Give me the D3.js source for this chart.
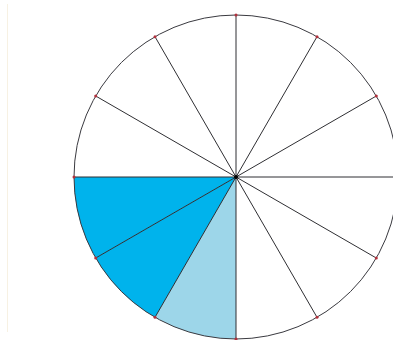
<!DOCTYPE html>
<html>
<head>
<meta charset="utf-8">
<script src="https://cdn.jsdelivr.net/npm/d3@7"></script>
<style>
  body { margin: 0; background: #fff; }
  svg { display: block; }
</style>
</head>
<body>
<div id="chart"></div>
<script>
// 12 equal parts, counted clockwise from 12 o'clock
const sliceValues = [1, 1, 1, 1, 1, 1, 1, 1, 1, 1, 1, 1];
// 0 = empty, 1 = light blue, 2 = bright blue
const sliceShading = [0, 0, 0, 0, 0, 0, 1, 2, 2, 0, 0, 0];
const shadeColors = ["#ffffff", "#9dd6e9", "#00b3ec"];

const svgWidth = 393;
const svgHeight = 340;
const cx = 236;
const cy = 177;
const radius = 162;

const svg = d3.select("#chart")
  .append("svg")
  .attr("width", svgWidth)
  .attr("height", svgHeight);

// faint page edge on the left
svg.append("line")
  .attr("x1", 7.5).attr("x2", 7.5)
  .attr("y1", 4).attr("y2", 332)
  .attr("stroke", "#f7f1e3")
  .attr("stroke-width", 1);

const g = svg.append("g").attr("transform", `translate(${cx},${cy})`);

const pie = d3.pie().sort(null).value((d) => d);
const arcs = pie(sliceValues);
const arc = d3.arc().innerRadius(0).outerRadius(radius);

// filled slices
g.selectAll("path.slice")
  .data(arcs)
  .enter()
  .append("path")
  .attr("class", "slice")
  .attr("d", arc)
  .attr("fill", (d, i) => shadeColors[sliceShading[i]])
  .attr("stroke", "none");

// radii
g.selectAll("line.radius")
  .data(arcs)
  .enter()
  .append("line")
  .attr("class", "radius")
  .attr("x1", 0).attr("y1", 0)
  .attr("x2", (d) => radius * Math.sin(d.startAngle))
  .attr("y2", (d) => -radius * Math.cos(d.startAngle))
  .attr("stroke", "#2f2f33")
  .attr("stroke-width", 1);

// outer circle
g.append("circle")
  .attr("r", radius)
  .attr("fill", "none")
  .attr("stroke", "#3a3a40")
  .attr("stroke-width", 1);

// small red marks where radii meet the circle
g.selectAll("circle.mark")
  .data(arcs)
  .enter()
  .append("circle")
  .attr("class", "mark")
  .attr("cx", (d) => radius * Math.sin(d.startAngle))
  .attr("cy", (d) => -radius * Math.cos(d.startAngle))
  .attr("r", 1.5)
  .attr("fill", "#b0303c");

// centre dot
g.append("circle")
  .attr("r", 2)
  .attr("fill", "#000");
</script>
</body>
</html>
